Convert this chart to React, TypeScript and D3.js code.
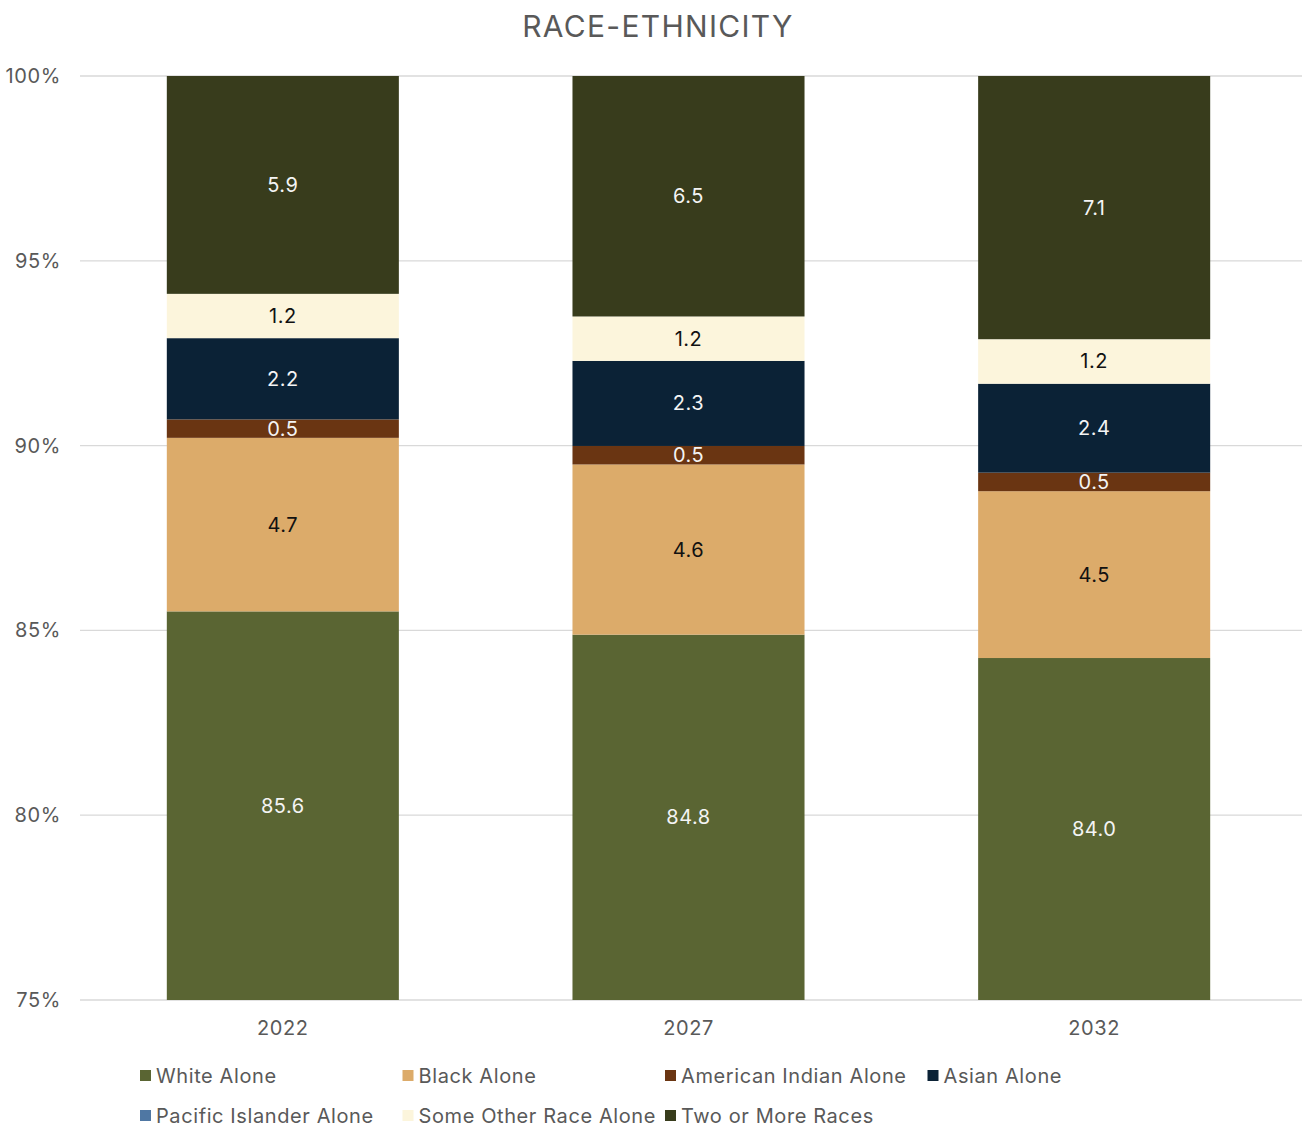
import React from "react";
import * as d3 from "d3";

const years = ["2022", "2027", "2032"];
const seriesNames = [
  "White Alone",
  "Black Alone",
  "American Indian Alone",
  "Asian Alone",
  "Pacific Islander Alone",
  "Some Other Race Alone",
  "Two or More Races",
];
const white = [85.6, 84.8, 84.0];
const black = [4.7, 4.6, 4.5];
const amIndian = [0.5, 0.5, 0.5];
const asian = [2.2, 2.3, 2.4];
const pacific = [0.0, 0.0, 0.0];
const someOther = [1.2, 1.2, 1.2];
const twoOrMore = [5.9, 6.5, 7.1];
const yTicks = [0.75, 0.8, 0.85, 0.9, 0.95, 1.0];

const colors = ["#5a6533", "#dcab6a", "#6a3512", "#0b2236", "#4f77a3", "#fcf5dc", "#383c1c"];
const labelColors = ["#f4f4f4", "#111111", "#f4f4f4", "#f4f4f4", "#f4f4f4", "#111111", "#f4f4f4"];

const W = 1302;
const H = 1129;
const FONT = "Inter, 'Noto Sans', sans-serif";
const LS = 0.6;

export default function App() {
  const allSeries = [white, black, amIndian, asian, pacific, someOther, twoOrMore];
  const rows = years.map((y, i) => {
    const r: any = { year: y };
    seriesNames.forEach((s, k) => (r[s] = allSeries[k][i]));
    return r;
  });
  const stacked = d3.stack<any>().keys(seriesNames).offset(d3.stackOffsetExpand)(rows);

  const left = 80, right = 1297, top = 76, bottom = 1000;
  const x = d3.scaleBand().domain(years).range([left, right]).paddingInner(0.428).paddingOuter(0.214);
  const y = d3.scaleLinear().domain([0.75, 1]).range([bottom, top]);

  return (
    <div style={{ position: "fixed", left: 0, top: 0, width: W, height: H, overflow: "hidden" }}>
      <svg width={W} height={H} style={{ display: "block", background: "#fff" }} fontFamily={FONT}>
        <defs>
          <clipPath id="plotclip">
            <rect x={left} y={top} width={right - left} height={bottom - top} />
          </clipPath>
        </defs>
        <text x={658} y={37} textAnchor="middle" fontSize={30} letterSpacing={1.3} fill="#595959">RACE-ETHNICITY</text>
        {yTicks.map((t) => (
          <g key={t}>
            <line x1={left} x2={W} y1={y(t)} y2={y(t)} stroke="#d9d9d9" strokeWidth={1.3} />
            <text x={61} y={y(t) + 7} textAnchor="end" fontSize={20} letterSpacing={LS} fill="#595959">
              {d3.format(".0%")(t)}
            </text>
          </g>
        ))}
        <g clipPath="url(#plotclip)">
          {stacked.map((layer, k) =>
            layer.map((d, i) => {
              const y0 = Math.max(d[0], 0.75);
              const y1 = Math.min(d[1], 1);
              if (y1 <= y0) return null;
              return (
                <rect
                  key={k + "-" + i}
                  x={x(years[i])}
                  width={x.bandwidth()}
                  y={y(y1)}
                  height={y(y0) - y(y1)}
                  fill={colors[k]}
                />
              );
            })
          )}
        </g>
        {stacked.map((layer, k) =>
          layer.map((d, i) => {
            const v = allSeries[k][i];
            if (v <= 0) return null;
            const y0 = Math.max(d[0], 0.75);
            const y1 = Math.min(d[1], 1);
            const cy = (y(y0) + y(y1)) / 2;
            return (
              <text
                key={"l" + k + "-" + i}
                x={(x(years[i]) as number) + x.bandwidth() / 2}
                y={cy + 7}
                textAnchor="middle"
                fontSize={20}
                letterSpacing={0.5}
                fill={labelColors[k]}
              >
                {v.toFixed(1)}
              </text>
            );
          })
        )}
        {years.map((yr) => (
          <text key={yr} x={(x(yr) as number) + x.bandwidth() / 2} y={1035} textAnchor="middle" fontSize={20} letterSpacing={LS} fill="#595959">
            {yr}
          </text>
        ))}
        {seriesNames.map((s, k) => {
          const col = k < 4 ? k : k - 4;
          const row = k < 4 ? 0 : 1;
          const lx = 140 + col * 262.5;
          const ly = 1076 + row * 40;
          return (
            <g key={s}>
              <rect x={lx} y={ly - 6} width={11} height={11} fill={colors[k]} />
              <text x={lx + 16} y={ly + 7} fontSize={20} letterSpacing={LS} fill="#595959">{s}</text>
            </g>
          );
        })}
      </svg>
    </div>
  );
}
